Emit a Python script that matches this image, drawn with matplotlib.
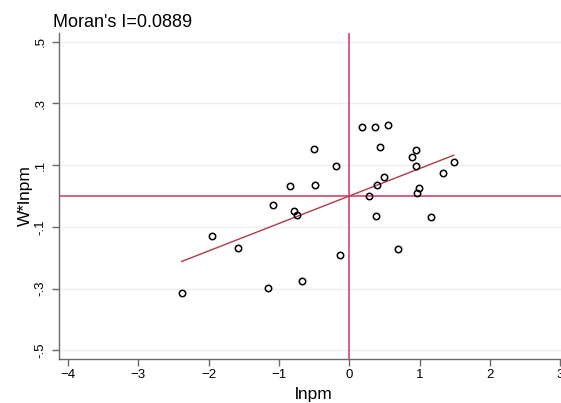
import numpy as np
import matplotlib
matplotlib.use("Agg")
import matplotlib.pyplot as plt

plt.rcParams['font.family'] = ['Liberation Sans', 'DejaVu Sans']

moran_i = 0.0889

lnpm = [0.185, 0.366, 0.546, 0.441, -0.502, 0.949, 0.887, -0.185, 0.949, 1.485,
        1.328, 0.498, 0.390, -0.848, -0.493, 0.996, 0.967, 0.280, -1.090, -0.782,
        -0.740, 0.384, 1.157, -1.953, -1.579, 0.688, -0.128, -0.677, -1.152, -2.384]
w_lnpm = [0.223, 0.223, 0.230, 0.159, 0.151, 0.150, 0.125, 0.097, 0.097, 0.109,
          0.075, 0.062, 0.035, 0.034, 0.037, 0.026, 0.009, 0.001, -0.030, -0.049,
          -0.062, -0.064, -0.068, -0.129, -0.170, -0.172, -0.190, -0.275, -0.299, -0.313]

xticks = [-4, -3, -2, -1, 0, 1, 2, 3]
yticks = [-0.5, -0.3, -0.1, 0.1, 0.3, 0.5]
ytick_labels = ['-.5', '-.3', '-.1', '.1', '.3', '.5']

W, H = 561, 403
fig = plt.figure(figsize=(W / 100, H / 100), dpi=100)
# axes deliberately runs past the right edge (picture is cropped there)
ax = fig.add_axes([59 / W, (H - 359) / H, (569.3 - 59) / W, (359 - 33) / H])

ax.set_xlim(-4.13, 3.13)
ax.set_ylim(-0.528, 0.528)

ax.grid(axis='y', color='#e8f0f1', lw=1)
ax.set_axisbelow(True)

ax.axhline(0, color='#d9426b', lw=1.2, zorder=2)
ax.axvline(0, color='#d9426b', lw=1.2, zorder=2)

x = np.array(lnpm)
xs = np.array([x.min(), x.max()])
ax.plot(xs, moran_i * xs, color='#b03a48', lw=1, zorder=3)

ax.plot(lnpm, w_lnpm, 'o', mfc='none', mec='black', ms=4.6, mew=1.1, zorder=4)

for s in ('top', 'right'):
    ax.spines[s].set_visible(False)
for s in ('left', 'bottom'):
    ax.spines[s].set_color('#6a6a6a')
    ax.spines[s].set_linewidth(1)

ax.set_xticks(xticks)
ax.set_yticks(yticks)
ax.set_yticklabels(ytick_labels, rotation=90, va='center')
ax.tick_params(axis='both', colors='#6a6a6a', labelcolor='black', labelsize=9.5,
               length=5, width=1)
ax.tick_params(axis='x', pad=2)
ax.tick_params(axis='y', pad=4)

ax.set_xlabel('lnpm', fontsize=12.5)
ax.xaxis.set_label_coords(0.5, -0.085)
ax.set_ylabel('W*lnpm', fontsize=12.5)
ax.yaxis.set_label_coords(-0.052, 0.5)

fig.text(53 / W, 1 - 27 / H, "Moran's I=0.0889", fontsize=13, va='baseline', ha='left')

fig.savefig('out.png', dpi=100)
